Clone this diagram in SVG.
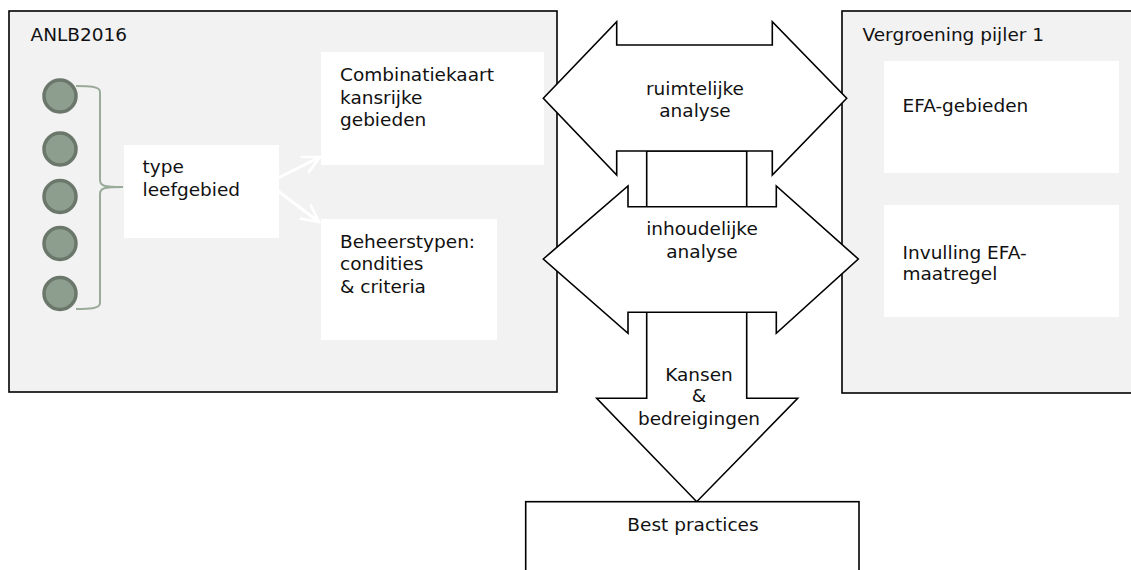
<svg xmlns="http://www.w3.org/2000/svg" width="1131" height="570" viewBox="0 0 1131 570">
<defs>
<style>
text{font-family:"DejaVu Sans","Verdana",sans-serif;font-size:18.5px;fill:#111}
.panel{fill:#f2f2f2;stroke:#000;stroke-width:1.6}
.box{fill:#fff;stroke:none}
.dot{fill:#8e9e8e;stroke:#6b776b;stroke-width:3.5}
.brace{fill:none;stroke:#9aab9a;stroke-width:2}
.block{fill:#fff;stroke:#000;stroke-width:1.6;stroke-linejoin:miter}
.warrow{fill:none;stroke:#fff;stroke-width:3;marker-end:url(#wa)}
.c{text-anchor:middle}
</style>
<marker id="wa" viewBox="0 0 12 12" refX="11" refY="6" markerWidth="7" markerHeight="7" markerUnits="strokeWidth" orient="auto">
<path d="M1,1 L11,6 L1,11" fill="none" stroke="#fff" stroke-width="1.5"/>
</marker>
</defs>

<g id="panel-anlb">
<rect class="panel" x="9" y="11" width="548" height="381"/>
<text x="30.5" y="41">ANLB2016</text>
</g>

<g id="panel-vergroening">
<rect class="panel" x="842" y="11" width="300" height="382"/>
<text x="862.5" y="41">Vergroening pijler 1</text>
</g>

<g id="dots">
<circle class="dot" cx="60" cy="96" r="16"/>
<circle class="dot" cx="60" cy="149" r="16"/>
<circle class="dot" cx="60" cy="196.5" r="16"/>
<circle class="dot" cx="60" cy="243.5" r="16"/>
<circle class="dot" cx="60" cy="293.5" r="16"/>
<path class="brace" d="M76,86 C88,86 100,86 100,92 L100,180 C100,186 104,187 123,187 C104,187 100,188 100,194 L100,303 C100,309 88,309 76,309"/>
</g>

<g id="node-type">
<rect class="box" x="124" y="145" width="155" height="93"/>
<text x="142.5" y="173">type</text>
<text x="142.5" y="196">leefgebied</text>
</g>

<g id="node-combinatiekaart">
<rect class="box" x="321" y="52" width="223" height="113"/>
<text x="340" y="81">Combinatiekaart</text>
<text x="340" y="103.5">kansrijke</text>
<text x="340" y="126">gebieden</text>
</g>

<g id="node-beheerstypen">
<rect class="box" x="321" y="219" width="176" height="121"/>
<text x="340" y="248">Beheerstypen:</text>
<text x="340" y="270">condities</text>
<text x="340" y="292.5">&amp; criteria</text>
</g>

<g id="node-efa">
<rect class="box" x="884" y="61" width="235" height="112"/>
<text x="902.5" y="112">EFA-gebieden</text>
</g>

<g id="node-invulling">
<rect class="box" x="884" y="205" width="235" height="112"/>
<text x="902.5" y="258.5">Invulling EFA-</text>
<text x="902.5" y="280">maatregel</text>
</g>

<g id="connectors">
<line class="warrow" x1="278" y1="178" x2="320" y2="157"/>
<line class="warrow" x1="278" y1="191" x2="319" y2="222"/>
</g>

<g id="arrow-kansen">
<polygon class="block" points="646.7,151 746.7,151 746.7,398.3 797.7,398.3 696.7,501.7 596.7,398.3 646.7,398.3"/>
<text class="c" x="699" y="381">Kansen</text>
<text class="c" x="699" y="402">&amp;</text>
<text class="c" x="699" y="425">bedreigingen</text>
</g>

<g id="arrow-ruimtelijk">
<polygon class="block" points="543.3,98.3 616.7,21.7 616.7,45 772.3,45 772.3,21.7 846.7,98.3 772.3,175 772.3,151 616.7,151 616.7,175"/>
<text class="c" x="695" y="95">ruimtelijke</text>
<text class="c" x="695" y="117">analyse</text>
</g>

<g id="arrow-inhoudelijk">
<polygon class="block" points="543.3,259 628,186 628,206.7 776.3,206.7 776.3,186 858.3,259 776.3,333.3 776.3,312.3 628,312.3 628,333.3"/>
<text class="c" x="702" y="235">inhoudelijke</text>
<text class="c" x="702" y="257.5">analyse</text>
</g>

<g id="node-best">
<rect class="block" x="525.7" y="501.7" width="333.3" height="100"/>
<text class="c" x="693" y="531">Best practices</text>
</g>
</svg>
